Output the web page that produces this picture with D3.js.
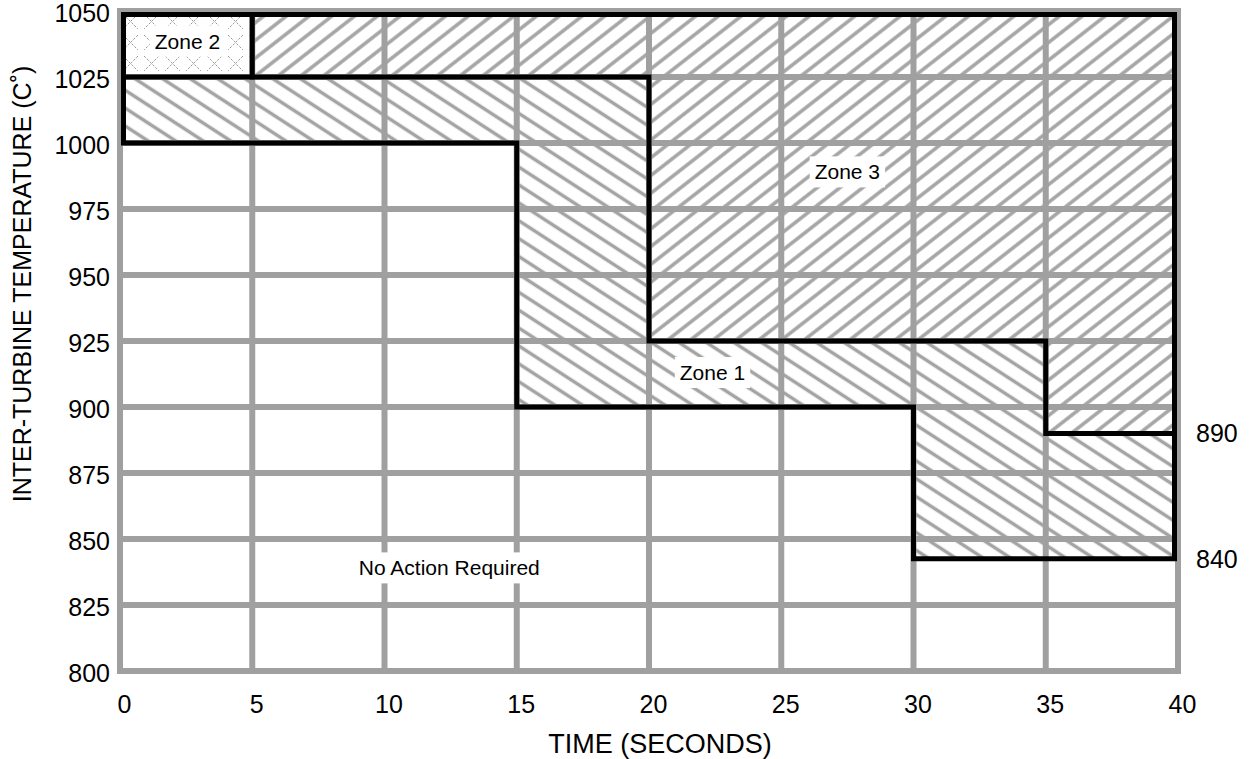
<!DOCTYPE html>
<html lang="en">
<head>
<meta charset="UTF-8">
<title>Inter-turbine temperature limits</title>
<script src="https://d3js.org/d3.v7.min.js"></script>
<style>
    body { margin: 0; background: #fff; }
    svg { display: block; font-family: "Liberation Sans", Arial, Helvetica, sans-serif; }
</style>
</head>
<body>
<script>
// data
const timeTicks = [0, 5, 10, 15, 20, 25, 30, 35, 40];
const tempTicks = [800, 825, 850, 875, 900, 925, 950, 975, 1000, 1025, 1050];

// lower limit of zone 1 (step after each time)
const lowerTimes = [0, 15, 30, 40];
const lowerTemps = [1000, 900, 842.5, 842.5];
// upper limit of zone 1 / lower limit of zone 3
const upperTimes = [0, 20, 35, 40];
const upperTemps = [1025, 925, 890, 890];
// zone 2 box
const zone2Times = [0, 5];
const zone2Temps = [1025, 1050];

const sideLabels = ["890", "840"];
const sideLabelTemps = [890, 842.5];

const zoneNames = ["Zone 2", "Zone 3", "Zone 1", "No Action Required"];
const zoneNameTimes = [2.55, 27.5, 22.4, 12.45];
const zoneNameTemps = [1038.5, 989, 913, 839];

const width = 1257, height = 759;
const svg = d3.select("body").append("svg")
    .attr("width", width)
    .attr("height", height);

const x = d3.scaleLinear().domain([0, 40]).range([120, 1178]);
const y = d3.scaleLinear().domain([800, 1050]).range([671, 11]);

const gray = "#a4a4a4";

// hatch patterns
const defs = svg.append("defs");
defs.append("pattern")
    .attr("id", "back")
    .attr("patternUnits", "userSpaceOnUse")
    .attr("width", 15).attr("height", 15)
    .attr("patternTransform", "rotate(33)")
  .append("line")
    .attr("x1", -1).attr("x2", 16).attr("y1", 7.5).attr("y2", 7.5)
    .attr("stroke", gray).attr("stroke-width", 3.5);
defs.append("pattern")
    .attr("id", "fwd")
    .attr("patternUnits", "userSpaceOnUse")
    .attr("width", 14).attr("height", 14)
    .attr("patternTransform", "rotate(-38)")
  .append("line")
    .attr("x1", -1).attr("x2", 15).attr("y1", 7).attr("y2", 7)
    .attr("stroke", gray).attr("stroke-width", 3.5);
const cross = defs.append("pattern")
    .attr("id", "cross")
    .attr("patternUnits", "userSpaceOnUse")
    .attr("x", 120).attr("y", 11)
    .attr("width", 21).attr("height", 21);
cross.append("path")
    .attr("d", "M3,3L18,18M18,3L3,18")
    .attr("stroke", "#9a9a9a").attr("stroke-width", 1)
    .attr("stroke-dasharray", "2.5 1.5").attr("fill", "none");

const pts = (ts, vs) => ts.map((t, i) => [t, vs[i]]);
const lowerPts = pts(lowerTimes, lowerTemps);
const upperPts = pts(upperTimes, upperTemps);

const toRev = a => a.slice().reverse();
function stepVerts(p) {
    const out = [];
    p.forEach((d, i) => {
        if (i > 0) out.push([d[0], p[i - 1][1]]);
        out.push(d);
    });
    return out;
}
const lowV = stepVerts(lowerPts);
const upV = stepVerts(upperPts);
const poly = v => "M" + v.map(d => [x(d[0]), y(d[1])].join(",")).join("L") + "Z";

// zone 1
svg.append("path")
    .attr("d", poly(lowV.concat(toRev(upV))))
    .attr("fill", "url(#back)");

// zone 3: from the top edge down to the upper limit, right of zone 2
const z3 = [[zone2Times[1], zone2Temps[1]], [40, 1050]]
    .concat(toRev(upV).map(d => d[0] < zone2Times[1] ? [zone2Times[1], d[1]] : d));
svg.append("path")
    .attr("d", poly(z3))
    .attr("fill", "url(#fwd)");

// zone 2
svg.append("rect")
    .attr("x", x(zone2Times[0])).attr("y", y(zone2Temps[1]))
    .attr("width", x(zone2Times[1]) - x(zone2Times[0]))
    .attr("height", y(zone2Temps[0]) - y(zone2Temps[1]))
    .attr("fill", "url(#cross)");

// grid
const grid = svg.append("g").attr("stroke", "#a0a0a0").attr("stroke-width", 6);
grid.selectAll(".v").data(timeTicks).enter().append("line")
    .attr("x1", d => x(d)).attr("x2", d => x(d))
    .attr("y1", y(1050) - 3).attr("y2", y(800) + 3);
grid.selectAll(".h").data(tempTicks).enter().append("line")
    .attr("y1", d => y(d)).attr("y2", d => y(d))
    .attr("x1", x(0) - 3).attr("x2", x(40) + 3);

// black limit lines, pulled just inside the frame where they run along it
const bx = t => x(t) + (t === 0 ? 3.5 : t === 40 ? -3.5 : 0);
const by = v => y(v) + (v === 1050 ? 3.5 : 0);
const bline = v => "M" + v.map(d => [bx(d[0]), by(d[1])].join(",")).join("L");
const black = svg.append("g").attr("fill", "none").attr("stroke", "#000")
    .attr("stroke-width", 5).attr("stroke-linejoin", "miter").attr("stroke-linecap", "square");
black.append("path").attr("d", bline(lowV.concat([[40, 1050], [0, 1050]])) + "Z");
black.append("path").attr("d", bline(upV));
black.append("path").attr("d", bline([[zone2Times[1], zone2Temps[0]], [zone2Times[1], zone2Temps[1]]]));

// axes
const xAxis = svg.append("g")
    .attr("transform", `translate(4,${y(800)})`)
    .call(d3.axisBottom(x).tickValues(timeTicks).tickSize(0).tickPadding(24));
const yAxis = svg.append("g")
    .attr("transform", `translate(${x(0)},0)`)
    .call(d3.axisLeft(y).tickValues(tempTicks).tickFormat(d3.format("d")).tickSize(0).tickPadding(10));
[xAxis, yAxis].forEach(a => {
    a.select(".domain").remove();
    a.selectAll("text").attr("font-size", 25).attr("fill", "#000")
        .attr("font-family", "'Liberation Sans', Arial, sans-serif");
});
yAxis.selectAll("text").attr("dy", "0.42em");

svg.selectAll(".side").data(sideLabels).enter().append("text")
    .attr("x", 1196).attr("y", (d, i) => y(sideLabelTemps[i]))
    .attr("dy", "0.35em").attr("font-size", 25).text(d => d);

svg.append("text")
    .attr("x", 660).attr("y", 753)
    .attr("text-anchor", "middle").attr("font-size", 27)
    .text("TIME (SECONDS)");

svg.append("text")
    .attr("transform", "translate(31,284) rotate(-90)")
    .attr("text-anchor", "middle").attr("font-size", 25)
    .text("INTER-TURBINE  TEMPERATURE (C\u02DA)");

// zone labels on white
zoneNames.forEach((name, i) => {
    const g = svg.append("g");
    const t = g.append("text")
        .attr("x", x(zoneNameTimes[i])).attr("y", y(zoneNameTemps[i]))
        .attr("dy", "0.35em").attr("text-anchor", "middle")
        .attr("font-size", 21).text(name);
    const b = t.node().getBBox();
    g.insert("rect", "text")
        .attr("x", b.x - 5).attr("y", b.y - 4)
        .attr("width", b.width + 10).attr("height", b.height + 8)
        .attr("fill", "#fff");
});
</script>
</body>
</html>
